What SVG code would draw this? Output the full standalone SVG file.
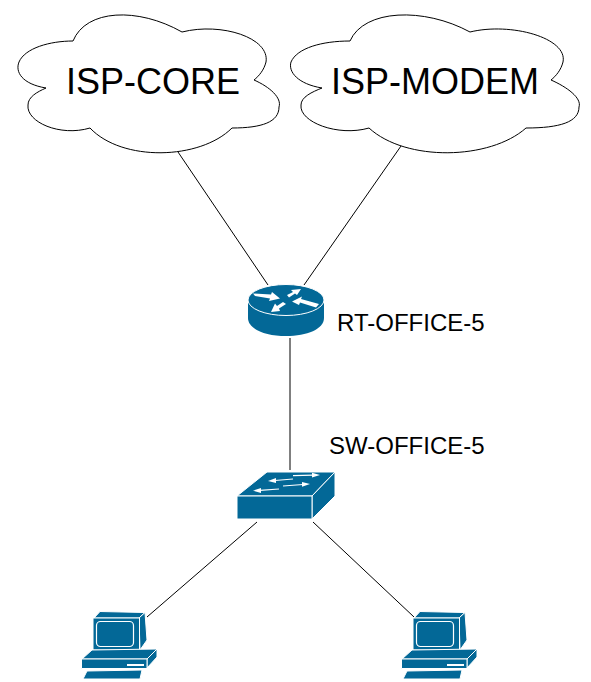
<svg xmlns="http://www.w3.org/2000/svg" width="591" height="682" viewBox="0 0 591 682">
<style>
.cloud{fill:#fff;stroke:#000;stroke-width:1}
.t{font-family:"Liberation Sans",Arial,sans-serif;fill:#000}
.big{font-size:36px;text-anchor:middle}
.lbl{font-size:24px}
.b{fill:#036897;stroke:#fff;stroke-width:1;stroke-linejoin:round}
.w{fill:#fff;stroke:none}
.wl{fill:none;stroke:#fff;stroke-width:1.2}
#connectors line{stroke:#000;stroke-width:1}
</style>
<defs>
<g id="pc">
<path class="b" d="M94 618 L100 611.5 L145 612.5 L139 618 Z"/>
<path class="b" d="M139 618 L145 612.5 L147 640 L140 650 Z"/>
<rect class="b" x="93" y="618" width="46.5" height="32"/>
<rect x="96.5" y="621.5" width="37" height="25" rx="4" fill="#036897" stroke="#fff" stroke-width="1.2"/>
<path class="b" d="M82 659 L92 650 L157 649 L147 659 Z"/>
<path class="b" d="M147 659 L157 649 L157 657 L147 668 Z"/>
<rect class="b" x="81.500" y="659" width="65.500" height="9.500"/>
<path d="M127 665 H144" fill="none" stroke="#fff" stroke-width="2"/>
<path class="b" d="M87 671 L142 670 L140 679 L83 679 Z"/>
</g>
</defs>
<g id="connectors">
<line x1="178" y1="152" x2="268" y2="285"/>
<line x1="401" y1="146" x2="304" y2="285"/>
<line x1="290" y1="338" x2="290" y2="470"/>
<line x1="257" y1="522" x2="147" y2="617"/>
<line x1="313" y1="522" x2="414" y2="617"/>
</g>
<g id="isp-core">
<path class="cloud" d="M73 41 C86 9 138 7 182 32 C222 22 270 38 266 62 C264 70 259 76 254 80 C270 87 282 98 279 107 C279 122 262 128 232 128 C200 160 122 162 90 128 C60 137 26 122 28 105 C28 97 37 92 46 88 C22 84 15 72 19 62 C25 48 50 41 73 41 Z"/>
<text class="t big" x="153" y="94">ISP-CORE</text>
</g>
<g id="isp-modem">
<path class="cloud" d="M350 41 C364 9 424 7 470 32 C511 22 568 38 563 62 C561 70 556 76 551 80 C567 87 582 98 579 107 C579 122 560 128 526 128 C490 160 406 162 369 128 C338 137 299 122 301 105 C301 97 312 92 322 88 C298 84 288 72 291 62 C297 48 322 41 350 41 Z"/>
<text class="t big" x="435" y="94">ISP-MODEM</text>
</g>
<g id="rt-office-5">
<path d="M248 300 V318 C248 329 265 336 286 336 C307 336 324 329 324 318 V300 Z" fill="#036897"/>
<ellipse cx="286" cy="300" rx="38" ry="15.5" fill="#036897" stroke="#fff" stroke-width="1"/>
<path class="w" d="M253 293.500 L271 294.500 L272 292 L280 298.500 L269 301 L270 298.500 L255 296 Z"/>
<path class="w" d="M287 295 L293 292 L291 290 L301 289 L297 295 L295 293.500 L289 297.500 Z"/>
<path class="w" d="M319 304 L301 299 L302 296.500 L292 301.500 L299 305 L300 302.500 L316 307.500 Z"/>
<path class="w" d="M283 302 L277 306 L275 303.500 L271 312 L280 311 L279 308.500 L286 304 Z"/>
</g>
<text class="t lbl" x="337" y="331">RT-OFFICE-5</text>
<g id="sw-office-5">
<path class="b" d="M237 496 L267 472 L335 472 L312 496 Z"/>
<path class="b" d="M312 496 L335 472 L335 496 L312 519 Z"/>
<rect class="b" x="237" y="496" width="75" height="23"/>
<path class="wl" d="M293 475.700 L313 475.200"/><path class="w" d="M312 472.800 L320 475 L312 477.500 Z"/>
<path class="wl" d="M293 479 L275 480.500"/><path class="w" d="M276 478 L268 481 L276 483 Z"/>
<path class="wl" d="M283 486 L303 484.500"/><path class="w" d="M302 482 L310 484 L302 486.800 Z"/>
<path class="wl" d="M279 489 L260 490.300"/><path class="w" d="M261 488 L253 490.700 L261 493 Z"/>
</g>
<text class="t lbl" x="329" y="454">SW-OFFICE-5</text>
<g id="pc-1"><use href="#pc"/></g>
<g id="pc-2"><use href="#pc" x="320"/></g>
</svg>
